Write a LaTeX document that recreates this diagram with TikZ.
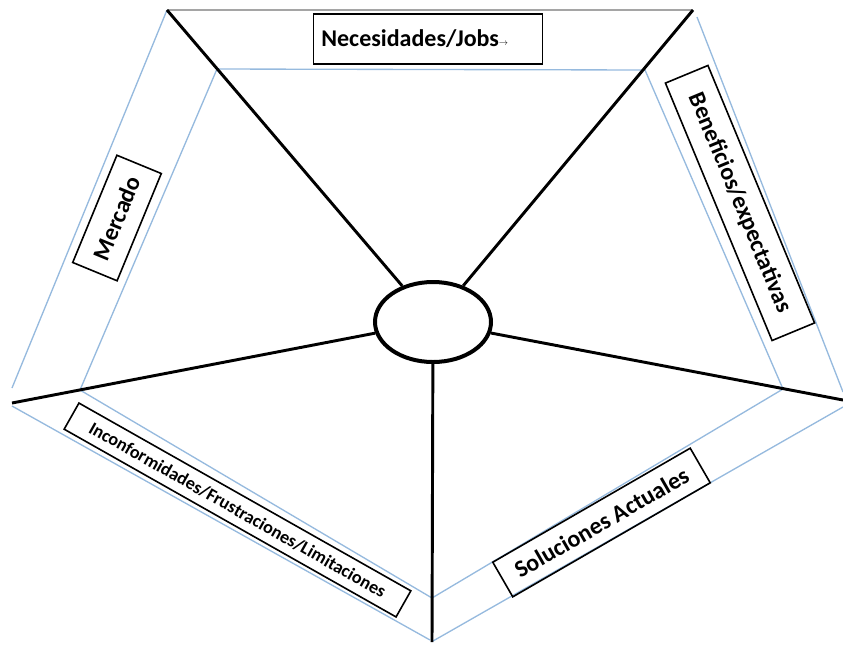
\documentclass[tikz,border=0pt]{standalone}
\usepackage{fontspec}
\setmainfont{Carlito}
\usetikzlibrary{shapes}
\definecolor{edgeblue}{RGB}{150,186,222}
\definecolor{edgegray}{RGB}{165,165,165}
\tikzstyle{label} = [draw, rectangle, line width=1.2pt, inner sep=2pt, font=\bfseries\fontsize{18}{20}\selectfont]
\tikzstyle{core} = [draw, ellipse, line width=3pt, minimum width=87pt, minimum height=60pt]
\tikzstyle{spoke} = [line width=2.2pt]
\tikzstyle{rim} = [edgeblue, line width=1pt]

\begin{document}
\begin{tikzpicture}[x=0.75pt, y=-0.75pt]
    \useasboundingbox (0,0) rectangle (843,644);
    % outer corners
    \coordinate (tl) at (167,10);
    \coordinate (tr) at (693,10);
    \coordinate (r) at (843,400);
    \coordinate (b) at (432,642);
    \coordinate (l) at (12,403);
    % outer rim
    \draw [rim] (12,388) -- (167,10);
    \draw [edgegray, line width=1.6pt] (tl) -- (tr);
    \draw [rim] (697,17) -- (843,392);
    \draw [rim] (843,407) -- (433,641);
    \draw [rim] (430,640) -- (12,406);
    % inner rim
    \draw [rim] (217,69) -- (645,70) -- (783,389) -- (432,598) -- (80,390) -- cycle;
    \node [core] (ctr) at (433,322) {};
    \draw [spoke] (ctr) -- (tl);
    \draw [spoke] (ctr) -- (tr);
    \draw [spoke] (ctr) -- (r);
    \draw [spoke] (ctr) -- (b);
    \draw [spoke] (ctr) -- (l);
    % labels
    \node [label, minimum width=171.75pt, minimum height=37.5pt, text width=160pt, align=left] (nec) at (428,39) {Necesidades/Jobs\raisebox{1pt}{\scalebox{0.4}{$\rightarrow$}}};
    \node [label, minimum width=87pt, minimum height=36pt, rotate=67.6] (mer) at (117,218) {Mercado};
    \node [label, minimum width=209pt, minimum height=34.5pt, rotate=-67.5] (ben) at (740,203) {Beneficios/expectativas};
    \node [label, minimum width=171pt, minimum height=30pt, rotate=30] (sol) at (601.5,522.5) {Soluciones Actuales};
    \node [label, minimum width=286pt, minimum height=22.5pt, rotate=-29.5, font=\bfseries\fontsize{13.6}{15}\selectfont] (inc) at (237.5,510) {Inconformidades/Frustraciones/Limitaciones};
\end{tikzpicture}
\end{document}
